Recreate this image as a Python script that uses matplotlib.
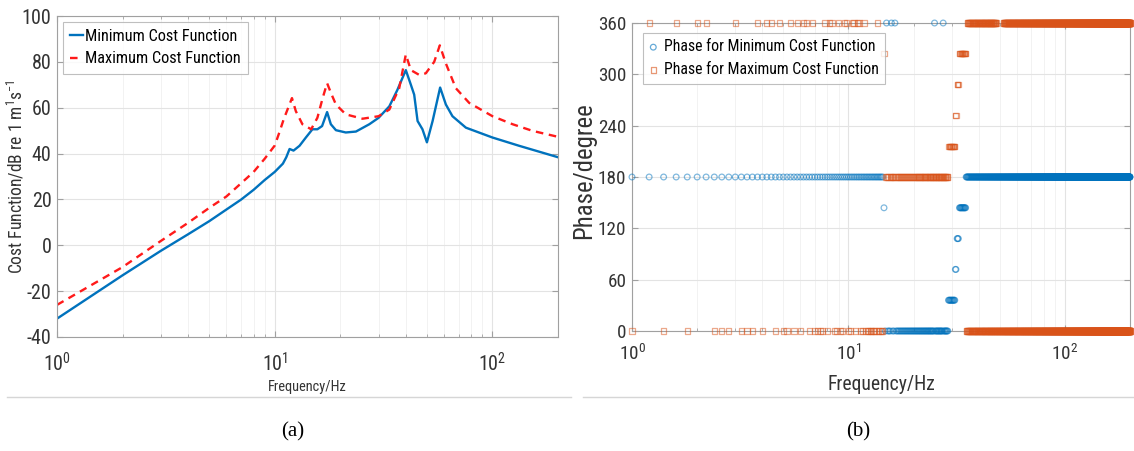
#!/usr/bin/env python3
"""
Cost function magnitude (a) and phase (b) versus frequency
"""

import numpy as np
import matplotlib
matplotlib.use('Agg')
import matplotlib.pyplot as plt
from matplotlib import font_manager as fm
from matplotlib.lines import Line2D
from matplotlib.ticker import LogLocator, NullFormatter, FixedLocator

# ---- data -------------------------------------------------------------
# (a) magnitude, dB
f_min = [1, 2, 3, 4, 5, 6, 7, 8, 9, 10, 10.9, 11.3, 11.7, 12.2, 13.0, 13.9,
         14.9, 15.7, 16.5, 17.4, 18.1, 19.1, 21.2, 23.6, 27.2, 30, 33.6, 36.6,
         40, 42.2, 43.7, 45.3, 47.7, 50, 53.1, 57.5, 61.1, 65.5, 75.5, 100,
         132.5, 200]
min_cost = [-32, -13.1, -2.4, 4.8, 10.5, 15.6, 19.9, 24.2, 28.5, 32, 35.6,
            38.4, 42.0, 41.3, 43.4, 47.0, 50.6, 50.6, 52, 58.1, 52.8, 50.2,
            49.2, 49.6, 52.8, 55.6, 60.6, 67.8, 76.4, 70, 65.7, 54.2, 50.6,
            44.9, 54.2, 68.8, 61.4, 56.3, 51.3, 47, 43.4, 38.4]

f_max = [1, 2, 3, 4, 5, 6, 7, 8, 9, 10, 10.5, 11.0, 12.0, 12.5, 13.4, 14.7,
         15.7, 16.6, 17.4, 18.2, 19.1, 21.2, 25.3, 30, 33.6, 37.3, 40, 42.2,
         46.1, 49.4, 54, 57.3, 61.1, 67.9, 78.2, 100, 123.7, 152.8, 200]
max_cost = [-26, -9.5, 1.9, 9.8, 16.3, 21.3, 27, 32, 37.8, 43.5, 49.2, 55,
            64.2, 58.5, 52.8, 50.6, 55.6, 64.2, 70.7, 66, 61.4, 57.1, 55.2,
            56.3, 59.2, 68.5, 83.2, 76.4, 74.3, 75, 80, 87.2, 79.3, 68.5, 62.1,
            56.3, 52.8, 49.9, 47.3]

# (b) phase, degree, sampled every 0.2 Hz from 1 to 200 Hz
freq_start, freq_stop, freq_step = 1.0, 200.0, 0.2

# (f_lo, f_hi, phase)
min_phase_segments = [
    (1.0, 14.4, 180),
    (14.6, 14.6, 144),
    (14.8, 28.8, 0),
    (29.0, 31.0, 36),
    (31.2, 31.4, 72),
    (31.8, 32.2, 108),
    (32.6, 34.8, 144),
    (35.0, 200.0, 180),
]
min_phase_360 = [15.0, 15.8, 16.4, 25.0, 27.4]

max_phase_segments = [
    (1.0, 14.4, 0),
    (14.6, 14.6, 324),
    (14.8, 28.8, 180),
    (29.0, 31.0, 216),
    (31.2, 31.4, 252),
    (31.8, 32.2, 288),
    (32.6, 34.8, 324),
    (35.0, 200.0, 0),
]
max_phase_360 = [1.2, 1.6, 2.0, 2.2, 3.0, 3.8, 4.2, 4.4, 4.8, 5.4, 5.8, 6.2,
                 6.4, 6.8, 7.8, 8.2, 8.4, 9.0, 9.6, 9.8, 10.4, 10.6, 11.0,
                 11.2, 11.8, 13.6]
# ranges where the max-phase also wraps to 360 at high frequency
max_phase_360_ranges = [(35.4, 48.2), (52.0, 200.0)]

# ---- font: prefer a narrow sans if one is installed ------------------
avail = {f.name for f in fm.fontManager.ttflist}
family, stretch = None, 'normal'
for cand in ['Liberation Sans Narrow', 'Arial Narrow', 'Roboto Condensed',
             'Open Sans Condensed', 'Noto Sans Condensed']:
    if cand in avail:
        family = cand
        break
if family is None:
    for f in fm.fontManager.ttflist:
        if 'condensed' in str(f.stretch) and f.name in (
                'Roboto', 'Noto Sans', 'Open Sans', 'DejaVu Sans', 'Inter'):
            family, stretch = f.name, 'condensed'
            break
narrow = family is not None
if family is None:
    family = 'Liberation Sans'
k = 1.15 if narrow else 1.0  # narrow faces may be set a bit larger

plt.rcParams['font.family'] = [family, 'DejaVu Sans']
plt.rcParams['font.stretch'] = stretch
plt.rcParams['mathtext.fontset'] = 'custom'
plt.rcParams['mathtext.rm'] = family
plt.rcParams['mathtext.it'] = family
plt.rcParams['axes.unicode_minus'] = False

BLUE = '#0072BD'
ORANGE = '#D95319'
RED = '#FF1A1A'
TXT = '#333333'
EDGE = '#a0a0a0'

W, H = 1134, 451
fig = plt.figure(figsize=(W / 100, H / 100), dpi=100)


def px_axes(x0, x1, ytop, ybot):
    return fig.add_axes([x0 / W, 1 - ybot / H, (x1 - x0) / W, (ybot - ytop) / H])


def matlab_style(ax, fs, xpad):
    ax.set_xscale('log')
    ax.set_xlim(1, 200)
    for s in ax.spines.values():
        s.set_color(EDGE)
        s.set_linewidth(0.8)
    ax.tick_params(which='both', direction='in', top=True, right=True,
                   color=EDGE, labelcolor=TXT, labelsize=fs * k)
    ax.tick_params(which='major', length=4)
    ax.tick_params(which='minor', length=2)
    ax.tick_params(axis='x', which='major', pad=xpad)
    ax.tick_params(axis='y', which='major', pad=4)
    ax.xaxis.set_major_locator(FixedLocator([1, 10, 100]))
    ax.set_xticklabels([r'$\mathdefault{10^{0}}$', r'$\mathdefault{10^{1}}$',
                        r'$\mathdefault{10^{2}}$'])
    ax.xaxis.set_minor_locator(LogLocator(base=10, subs=np.arange(2, 10)))
    ax.xaxis.set_minor_formatter(NullFormatter())
    ax.grid(True, which='major', color='#e3e3e3', lw=0.8)
    ax.grid(True, which='minor', axis='x', color='#f0f0f0', lw=0.6)
    ax.set_axisbelow(True)


# ---- (a) ---------------------------------------------------------------
ax1 = px_axes(57, 558, 16, 337)
matlab_style(ax1, 12.5, 11)
ax1.plot(f_min, min_cost, color=BLUE, lw=1.7, label='Minimum Cost Function')
ax1.plot(f_max, max_cost, color=RED, lw=1.7, ls=(0, (3.2, 2.4)),
         label='Maximum Cost Function')
ax1.set_ylim(-40, 100)
ax1.set_yticks(np.arange(-40, 101, 20))
ax1.set_xlabel('Frequency/Hz', fontsize=9 * k, color=TXT)
ax1.set_ylabel(r'Cost Function/dB re 1 m$^{1}$s$^{-1}$', fontsize=11 * k,
               color=TXT)
ax1.xaxis.set_label_coords(0.5, (337 - 387) / 321)
ax1.xaxis.label.set_va('center')
ax1.yaxis.set_label_coords((16 - 57) / 501, 0.5)
ax1.yaxis.label.set_va('center')
leg1 = ax1.legend(loc='upper left', fontsize=10.2 * k, handlelength=0.8,
                  handletextpad=0.1, borderpad=0.45, labelspacing=0.45,
                  fancybox=False, edgecolor='#b0b0b0', borderaxespad=0.35)
leg1.get_frame().set_linewidth(0.8)

# ---- (b) ---------------------------------------------------------------
freq = np.round(np.arange(freq_start, freq_stop + 1e-9, freq_step), 1)


def build_phase(segments, wrap_list):
    ph = np.full(freq.shape, np.nan)
    for lo, hi, val in segments:
        ph[(freq >= lo - 1e-6) & (freq <= hi + 1e-6)] = val
    for fw in wrap_list:
        ph[np.isclose(freq, fw)] = 360
    return ph


min_phase = build_phase(min_phase_segments, min_phase_360)
max_phase = build_phase(max_phase_segments, max_phase_360)
extra = np.zeros(freq.shape, bool)
for lo, hi in max_phase_360_ranges:
    extra |= (freq >= lo - 1e-6) & (freq <= hi + 1e-6)

ax2 = px_axes(632, 1130, 23, 331)
matlab_style(ax2, 12, 9)
mk = dict(facecolors='none', linewidths=0.9, alpha=0.5, clip_on=False,
          zorder=3)
ax2.scatter(freq, min_phase, s=17, marker='o', edgecolors=BLUE,
            label='Phase for Minimum Cost Function', **mk)
ax2.scatter(freq, max_phase, s=14, marker='s', edgecolors=ORANGE,
            label='Phase for Maximum Cost Function', **mk)
ax2.scatter(freq[extra], np.full(extra.sum(), 360), s=14, marker='s',
            edgecolors=ORANGE, **mk)
ax2.set_ylim(0, 360)
ax2.set_yticks(np.arange(0, 361, 60))
ax2.set_xlabel('Frequency/Hz', fontsize=12.3 * k, color=TXT)
ax2.set_ylabel('Phase/degree', fontsize=15.5 * k, color=TXT)
ax2.xaxis.set_label_coords(0.5, (331 - 384) / 308)
ax2.xaxis.label.set_va('center')
ax2.yaxis.set_label_coords((584 - 632) / 498, 0.52)
ax2.yaxis.label.set_va('center')
leg2 = ax2.legend(loc='upper left', fontsize=9.9 * k, handlelength=0.5,
                  handletextpad=0.4, borderpad=0.4, labelspacing=0.5,
                  fancybox=False, edgecolor='#b0b0b0', borderaxespad=0.0,
                  bbox_to_anchor=((643 - 632) / 498, (331 - 33) / 308),
                  scatterpoints=1)
leg2.get_frame().set_linewidth(0.8)
for h in leg2.legend_handles:
    h.set_alpha(0.6)

# ---- separators and captions ------------------------------------------
for x0, x1 in [(7, 571), (583, 1134)]:
    fig.add_artist(Line2D([x0 / W, x1 / W], [1 - 397 / H] * 2,
                          transform=fig.transFigure, color='#d6d6d6', lw=1))
for x, s in [(293, '(a)'), (858, '(b)')]:
    fig.text(x / W, 1 - 432 / H, s, ha='center', va='center', fontsize=15,
             family=['Liberation Serif', 'DejaVu Serif'], color='black')

fig.savefig('out.png', dpi=100)
plt.close(fig)
